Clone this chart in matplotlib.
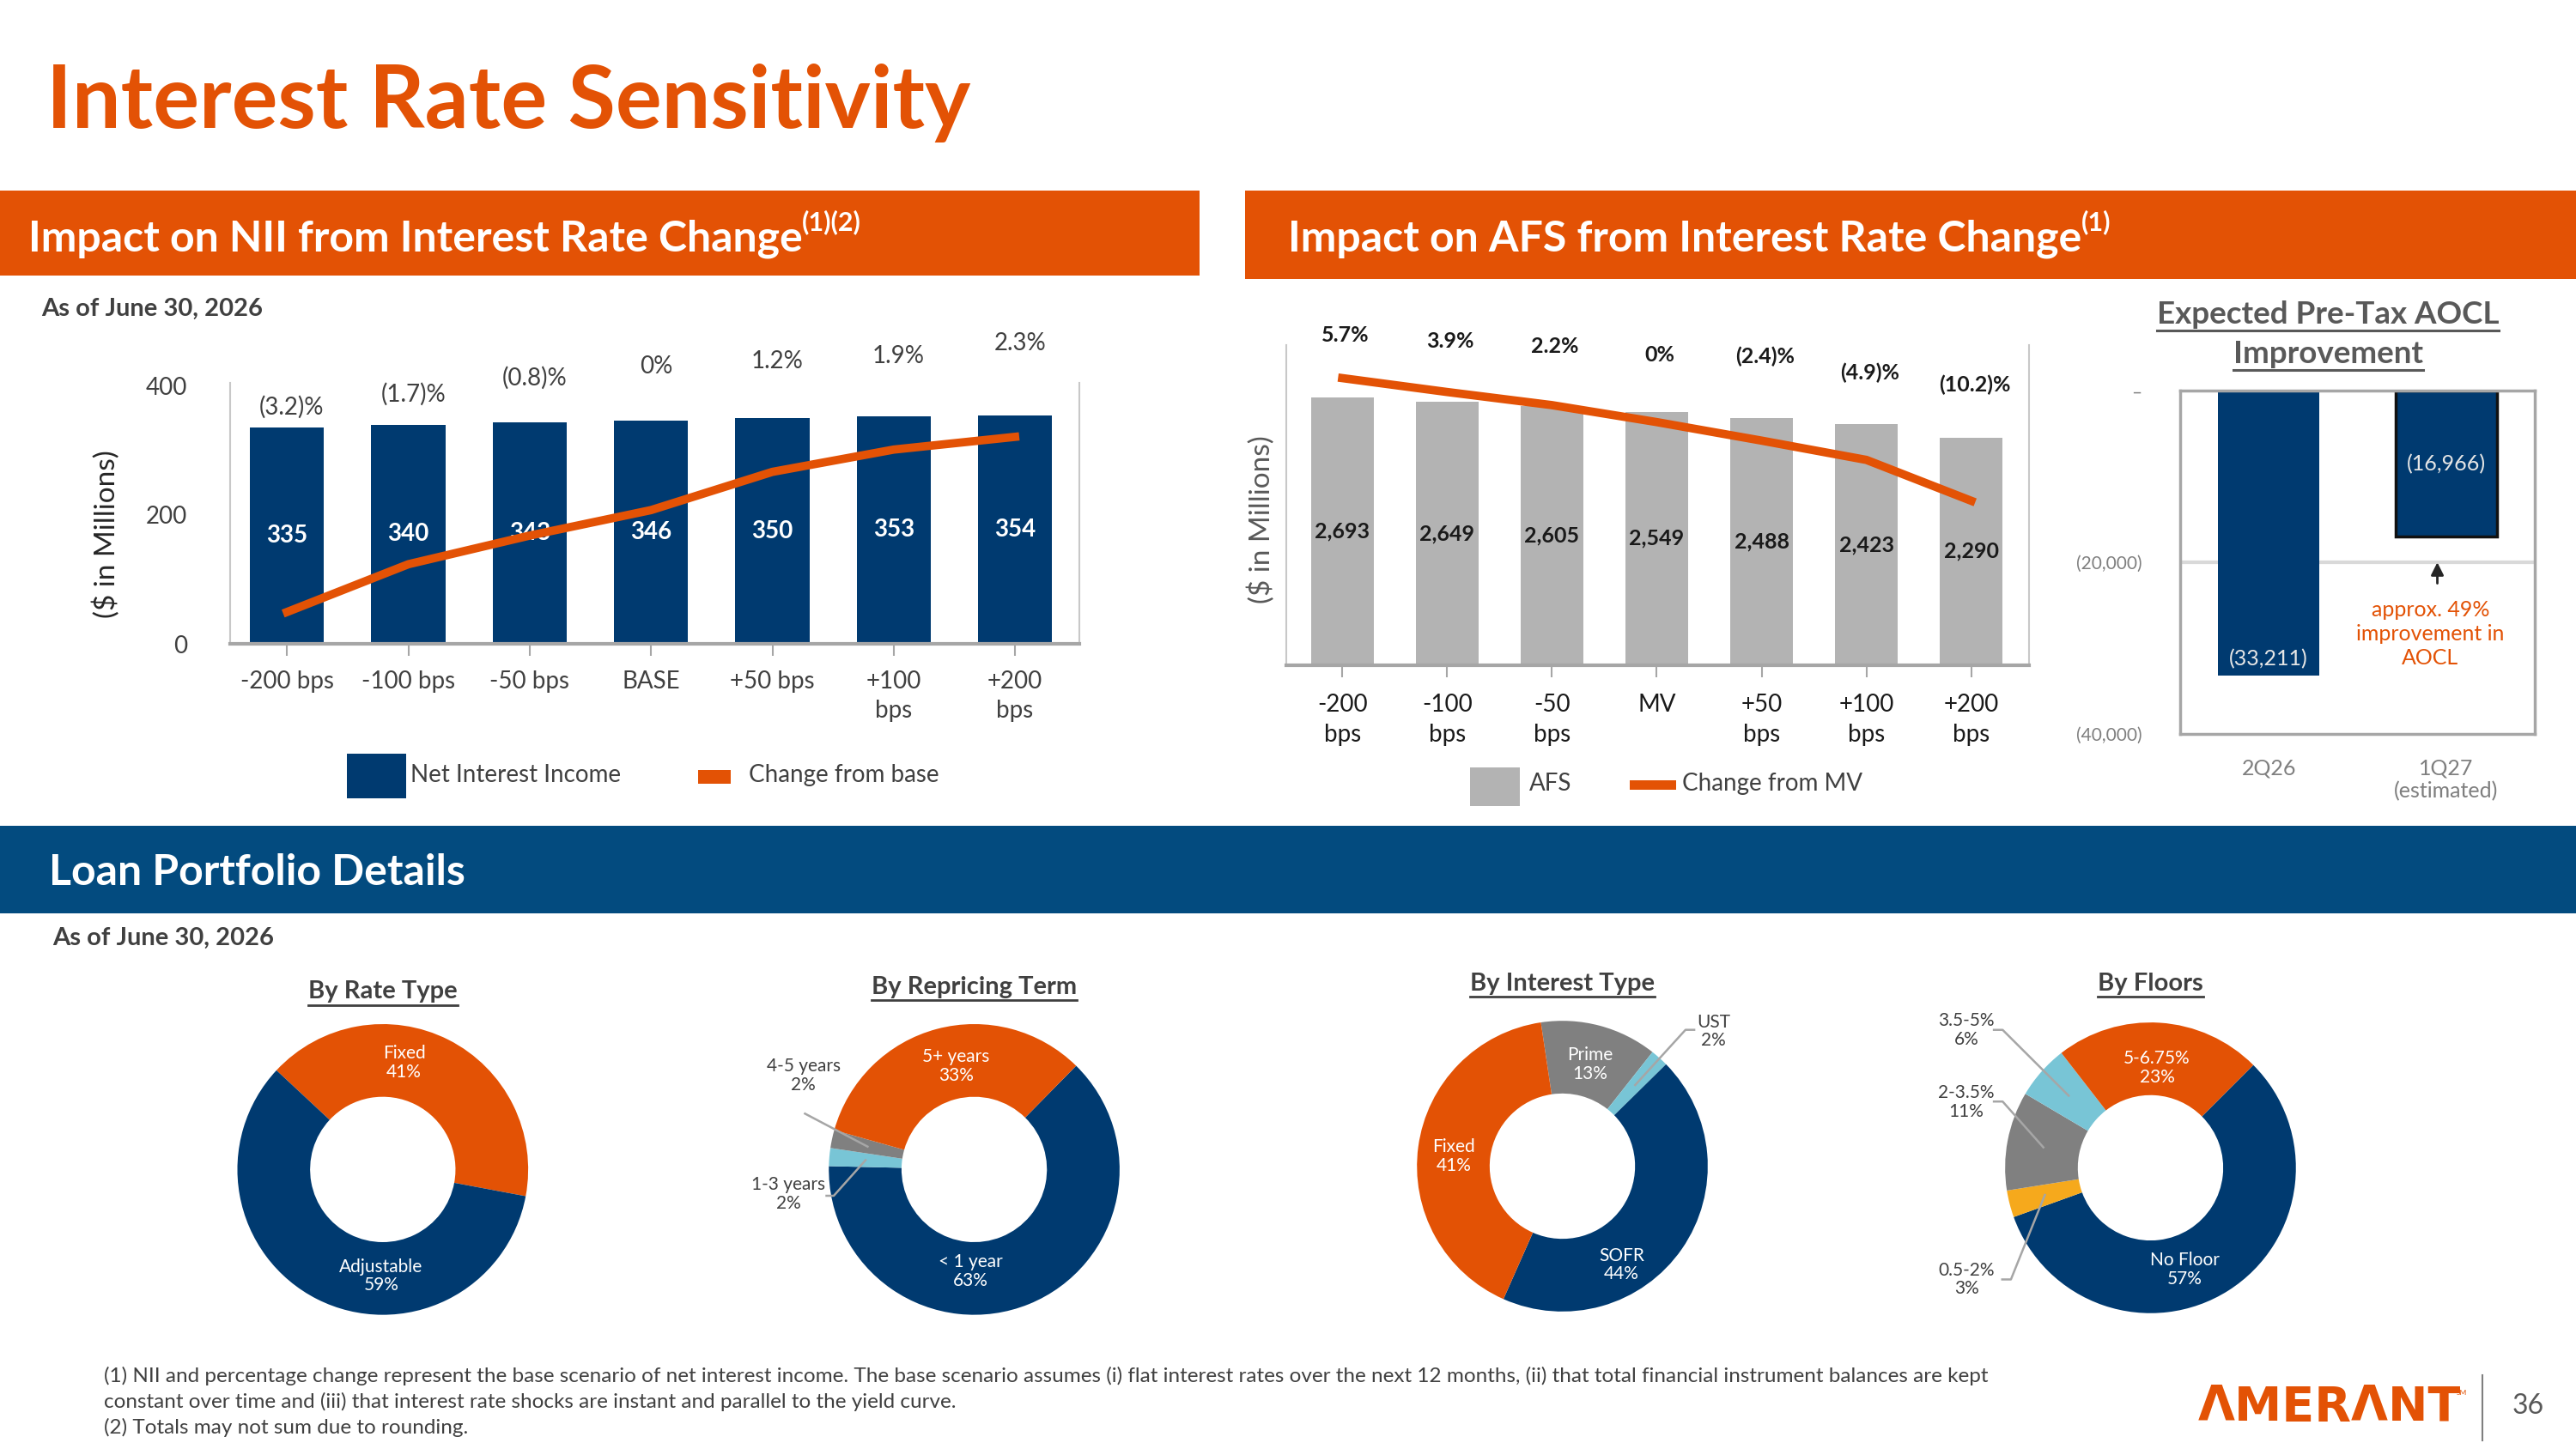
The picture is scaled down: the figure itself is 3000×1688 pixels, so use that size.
import numpy as np
import matplotlib
matplotlib.use('Agg')
import matplotlib.pyplot as plt
from matplotlib.patches import Rectangle
from matplotlib.lines import Line2D

plt.rcParams['font.family'] = ['Lato', 'DejaVu Sans']

ORANGE = '#E35205'
NAVY = '#003A70'
AFS_GRAY = '#B3B3B3'
PIE_GRAY = '#808080'
LBLUE = '#78C5D6'
YELLOW = '#F6A91C'
DARK = '#404040'

# ---- data ----
nii_scen = ['-200 bps', '-100 bps', '-50 bps', 'BASE', '+50 bps', '+100\nbps', '+200\nbps']
nii_vals = [335, 340, 343, 346, 350, 353, 354]
nii_pct = [-3.2, -1.7, -0.8, 0, 1.2, 1.9, 2.3]

afs_scen = ['-200\nbps', '-100\nbps', '-50\nbps', 'MV', '+50\nbps', '+100\nbps', '+200\nbps']
afs_vals = [2693, 2649, 2605, 2549, 2488, 2423, 2290]
afs_pct = [5.7, 3.9, 2.2, 0, -2.4, -4.9, -10.2]

aocl_per = ['2Q26', '1Q27\n(estimated)']
aocl_vals = [-33211, -16966]

rate_lbl = ['Fixed', 'Adjustable']
rate_pct = [41, 59]
term_lbl = ['< 1 year', '1-3 years', '4-5 years', '5+ years']
term_pct = [63, 2, 2, 33]
int_lbl = ['Prime', 'UST', 'SOFR', 'Fixed']
int_pct = [13, 2, 44, 41]
floor_lbl = ['No Floor', '0.5-2%', '2-3.5%', '3.5-5%', '5-6.75%']
floor_pct = [57, 3, 11, 6, 23]

notes = [
    '(1) NII and percentage change represent the base scenario of net interest income. The base scenario assumes (i) flat interest rates over the next 12 months, (ii) that total financial instrument balances are kept',
    'constant over time and (iii) that interest rate shocks are instant and parallel to the yield curve.',
    '(2) Totals may not sum due to rounding.',
]


def pct_fmt(v):
    if v < 0:
        return f'({abs(v):.1f})%'
    if v == 0:
        return '0%'
    return f'{v:.1f}%'


# layout works in a 1568 x 882 "slide" coordinate space
W, H = 1568, 882.2


def box(x0, y0, x1, y1):
    return [x0 / W, 1 - y1 / H, (x1 - x0) / W, (y1 - y0) / H]


def fx(x):
    return x / W


def fy(y):
    return 1 - y / H


fig = plt.figure(figsize=(30, 16.88), dpi=100)
rend = fig.canvas.get_renderer()


def rect(x0, y0, x1, y1, color):
    fig.add_artist(Rectangle((fx(x0), fy(y1)), (x1 - x0) / W, (y1 - y0) / H,
                             transform=fig.transFigure, color=color, lw=0))


def underline(t, y, color, lw=2.2):
    bb = t.get_window_extent(renderer=rend)
    x0, x1 = bb.x0 / fig.bbox.width, bb.x1 / fig.bbox.width
    fig.add_artist(Line2D([x0, x1], [fy(y), fy(y)], transform=fig.transFigure, color=color, lw=lw))


def with_sup(x, y, txt, sup, size, sup_size):
    t = fig.text(fx(x), fy(y), txt, color='white', fontsize=size, fontweight='bold', va='baseline')
    bb = t.get_window_extent(renderer=rend)
    fig.text(bb.x1 / fig.bbox.width, fy(y - 13), sup, color='white', fontsize=sup_size,
             fontweight='bold', va='baseline')


# ---- header ----
fig.text(fx(28), fy(78), 'Interest Rate Sensitivity', fontsize=72.5, fontweight='bold',
         color=ORANGE, va='baseline')
rect(0, 116, 730, 168, ORANGE)
rect(758, 116, 1568, 170, ORANGE)
with_sup(17, 153, 'Impact on NII from Interest Rate Change', '(1)(2)', 36, 22)
with_sup(784, 153, 'Impact on AFS from Interest Rate Change', '(1)', 36, 22)
fig.text(fx(25), fy(188), 'As of June 30, 2026', fontsize=21, fontweight='bold', color=DARK, va='center')

# ---- NII chart ----
ax = fig.add_axes(box(140, 233, 657, 392))
x = np.arange(len(nii_vals))
bars = ax.bar(x, nii_vals, width=0.61, color=NAVY)
ax.bar_label(bars, label_type='center', color='white', fontsize=20, fontweight='bold')
ax.set_xlim(-0.47, 6.53)
ax.set_ylim(0, 405)
ax.set_yticks([0, 200, 400])
ax.set_xticks(x, nii_scen)
ax.tick_params(axis='y', length=0, pad=36, labelsize=20, labelcolor=DARK)
ax.tick_params(axis='x', length=10, width=1.5, color='#A6A6A6', pad=12, labelsize=20, labelcolor=DARK)
for lab in ax.get_xticklabels():
    lab.set_linespacing(1.4)
ax.spines['top'].set_visible(False)
for s in ['left', 'right']:
    ax.spines[s].set_color('#C8C8C8')
    ax.spines[s].set_linewidth(1.5)
ax.spines['bottom'].set_color('#A6A6A6')
ax.spines['bottom'].set_linewidth(3)
nii_lbl_y = [367, 387, 413, 430, 438, 446, 466]
for i, v in enumerate(nii_pct):
    ax.text(i + 0.04, nii_lbl_y[i], pct_fmt(v), ha='center', va='center', fontsize=20,
            color=DARK, clip_on=False)
ax2 = ax.twinx()
ax2.plot(x, nii_pct, color=ORANGE, lw=7, solid_joinstyle='round')
ax2.set_ylim(-4.2, 4.0)
ax2.axis('off')
fig.text(fx(65), fy(325), '($ in Millions)', rotation=90, ha='center', va='center', fontsize=24, color='#262626')

rect(211, 459, 247, 486, NAVY)
fig.text(fx(250), fy(472), 'Net Interest Income', fontsize=20, color=DARK, va='center')
rect(425, 469, 445, 477, ORANGE)
fig.text(fx(456), fy(472), 'Change from base', fontsize=20, color=DARK, va='center')

# ---- AFS chart ----
bx = fig.add_axes(box(783, 210, 1235, 405))
xa = np.arange(len(afs_vals))
abars = bx.bar(xa, afs_vals, width=0.6, color=AFS_GRAY)
bx.bar_label(abars, labels=[f'{v:,}' for v in afs_vals], label_type='center',
             color='#1A1A1A', fontsize=18, fontweight='bold')
bx.set_xlim(-0.533, 6.55)
bx.set_ylim(0, 3220)
bx.set_yticks([])
bx.set_xticks(xa, afs_scen)
bx.tick_params(axis='x', length=10, width=1.5, color='#A6A6A6', pad=14, labelsize=20, labelcolor='#1A1A1A')
for lab in bx.get_xticklabels():
    lab.set_linespacing(1.4)
bx.spines['top'].set_visible(False)
for s in ['left', 'right']:
    bx.spines[s].set_color('#C8C8C8')
    bx.spines[s].set_linewidth(1.5)
bx.spines['bottom'].set_color('#A6A6A6')
bx.spines['bottom'].set_linewidth(3)
afs_lbl_y = [3319, 3253, 3203, 3121, 3104, 2939, 2823]
for i, v in enumerate(afs_pct):
    bx.text(i + 0.03, afs_lbl_y[i], pct_fmt(v), ha='center', va='center', fontsize=18,
            color='#1A1A1A', fontweight='bold', clip_on=False)
bx2 = bx.twinx()
bx2.plot(xa, afs_pct, color=ORANGE, lw=7, solid_joinstyle='round')
bx2.set_ylim(-31.5, 10)
bx2.axis('off')
fig.text(fx(768), fy(316), '($ in Millions)', rotation=90, ha='center', va='center', fontsize=24, color='#595959')

rect(895, 467, 925, 491, AFS_GRAY)
fig.text(fx(931), fy(477), 'AFS', fontsize=20, color=DARK, va='center')
rect(992, 475, 1020, 481, ORANGE)
fig.text(fx(1024), fy(477), 'Change from MV', fontsize=20, color=DARK, va='center')

# ---- AOCL chart ----
t1 = fig.text(fx(1417), fy(197), 'Expected Pre-Tax AOCL', ha='center', va='baseline',
              fontsize=26.5, fontweight='bold', color='#595959')
underline(t1, 201, '#595959')
t2 = fig.text(fx(1417), fy(221), 'Improvement', ha='center', va='baseline',
              fontsize=26.5, fontweight='bold', color='#595959')
underline(t2, 225, '#595959')

cx_ = fig.add_axes(box(1327, 238, 1543, 447))
cx_.axhline(-20000, color='#D9D9D9', lw=3, zorder=0)
cbars = cx_.bar([0, 1], aocl_vals, width=0.57, color=NAVY, edgecolor=[NAVY, '#111111'],
                linewidth=[0, 2.5], zorder=2)
cx_.set_xlim(-0.5, 1.5)
cx_.set_ylim(-40000, 0)
yt = [-40000, -20000, 0]
cx_.set_yticks(yt, [f'({abs(v):,})' if v else '–' for v in yt])
cx_.set_xticks([0, 1], aocl_per)
cx_.tick_params(axis='y', length=0, pad=32, labelsize=15, labelcolor='#7F7F7F')
cx_.tick_params(axis='x', length=0, pad=20, labelsize=18, labelcolor='#7F7F7F')
for s in cx_.spines.values():
    s.set_color('#A6A6A6')
    s.set_linewidth(2.5)
cx_.annotate(f'({abs(aocl_vals[0]):,})', (0, aocl_vals[0]), xytext=(0, 6), textcoords='offset points',
             ha='center', va='bottom', fontsize=18, color='#E6E6E6')
cx_.text(1, aocl_vals[1] / 2, f'({abs(aocl_vals[1]):,})', ha='center', va='center', fontsize=18, color='#E6E6E6')
impr = round((1 - aocl_vals[1] / aocl_vals[0]) * 100)
cx_.annotate('', xy=(0.95, -19700), xytext=(0.95, -22700),
             arrowprops=dict(arrowstyle='-|>', color='#262626', lw=2, mutation_scale=22))
cx_.text(0.91, -28300, f'approx. {impr}%\nimprovement in\nAOCL', ha='center', va='center',
         fontsize=18, color=ORANGE, linespacing=1.25)

# ---- Loan portfolio ----
rect(0, 503, 1568, 556, '#034B7F')
fig.text(fx(30), fy(531), 'Loan Portfolio Details', fontsize=36, fontweight='bold', color='white', va='center')
fig.text(fx(32), fy(571), 'As of June 30, 2026', fontsize=21, fontweight='bold', color=DARK, va='center')

R = 88.5


def donut(cx, cy, title, title_y, labels, vals, colors, start, lbl_pos, inside, leaders):
    s = 1.5 * R
    pax = fig.add_axes(box(cx - s, cy - s, cx + s, cy + s))
    wedges, _ = pax.pie(vals, colors=colors, startangle=start, counterclock=False,
                        wedgeprops=dict(width=0.5, linewidth=0))
    pax.set_xlim(-1.5, 1.5)
    pax.set_ylim(-1.5, 1.5)
    pax.set_aspect('equal')
    pax.axis('off')
    for i, (lab, v) in enumerate(zip(labels, vals)):
        px, py = lbl_pos[i]
        col = 'white' if inside[i] else DARK
        pax.text(px, py, f'{lab}\n{v}%', ha='center', va='center', fontsize=15, color=col,
                 linespacing=1.1, clip_on=False)
    for i, (hx, hy, dx) in leaders.items():
        w = wedges[i]
        ang = np.deg2rad((w.theta1 + w.theta2) / 2)
        ex, ey = 0.75 * np.cos(ang), 0.75 * np.sin(ang)
        pax.plot([hx + dx, hx, ex], [hy, hy, ey], color='#A6A6A6', lw=1.8, clip_on=False)
    t = fig.text(fx(cx), fy(title_y), title, ha='center', va='baseline', fontsize=21,
                 fontweight='bold', color=DARK)
    underline(t, title_y + 4, DARK, lw=2)


donut(233, 712, 'By Rate Type', 608, rate_lbl, rate_pct, [ORANGE, NAVY], 137,
      [(0.147, 0.734), (-0.011, -0.734)], [True, True], {})
donut(593, 712, 'By Repricing Term', 605, term_lbl, term_pct, [NAVY, LBLUE, PIE_GRAY, ORANGE], 45.5,
      [(-0.023, -0.70), (-1.277, -0.17), (-1.175, 0.644), (-0.124, 0.712)],
      [True, False, False, True],
      {1: (-0.966, -0.181, -0.05), 2: (-1.164, 0.384, 0.0)})
donut(951, 710, 'By Interest Type', 603, int_lbl, int_pct, [PIE_GRAY, LBLUE, NAVY, ORANGE], 98.5,
      [(0.192, 0.70), (1.04, 0.927), (0.407, -0.678), (-0.746, 0.068)],
      [True, False, True, True],
      {1: (0.847, 0.938, 0.06)})
donut(1309, 711, 'By Floors', 603, floor_lbl, floor_pct, [NAVY, YELLOW, PIE_GRAY, LBLUE, ORANGE], 45,
      [(0.237, -0.70), (-1.266, -0.768), (-1.266, 0.452), (-1.266, 0.949), (0.045, 0.689)],
      [True, False, False, False, True],
      {1: (-0.96, -0.768, -0.06), 2: (-1.017, 0.456, -0.06), 3: (-1.017, 0.949, -0.06)})

# ---- footer ----
for i, line in enumerate(notes):
    fig.text(fx(63), fy(838 + 15.5 * i), line, fontsize=17.5, color=DARK, va='center')
fig.text(fx(1338), fy(857), 'ΛMERΛNT', fontsize=40, fontweight='bold', color=ORANGE,
         family='DejaVu Sans', va='center')
fig.text(fx(1495), fy(848), 'SM', fontsize=6, color=ORANGE, va='center')
fig.add_artist(Line2D([fx(1511), fx(1511)], [fy(837), fy(877)], transform=fig.transFigure,
                      color='#7F7F7F', lw=1.5))
fig.text(fx(1539), fy(856), '36', fontsize=23, color='#595959', ha='center', va='center')

fig.savefig('out.png', dpi=100)
